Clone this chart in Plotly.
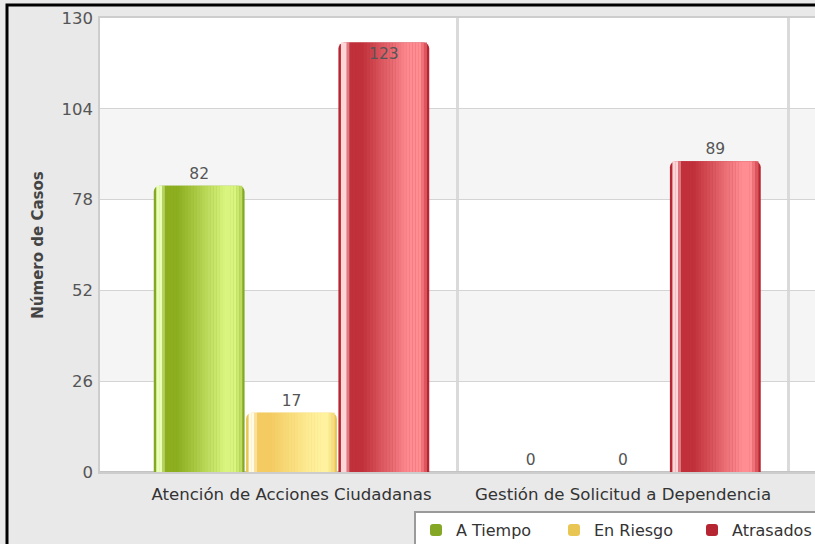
import plotly.graph_objects as go

# Cases per process and status
categories = ["Atención de Acciones Ciudadanas", "Gestión de Solicitud a Dependencia"]
series_names = ["A Tiempo", "En Riesgo", "Atrasados"]
a_tiempo = [82, 0]
en_riesgo = [17, 0]
atrasados = [123, 89]
y_ticks = [0, 26, 52, 78, 104, 130]

series_values = [a_tiempo, en_riesgo, atrasados]

W, H = 815, 544
L, R, T, B = 100, 0, 18, 72
PW, PH = W - L - R, H - T - B


def px2x(px):
    return (px - L) / PW


def py2y(py):
    return (H - B - py) / PH


# colour stops across the width of each cylinder-style bar:
# (base/legend colour, highlight, dark, light, right edge)
palettes = [
    ("#84a826", "#eaffb8", "#8cae1f", "#d9f57f", "#b4d458"),
    ("#e9c553", "#fffbe6", "#f4cb62", "#fff29e", "#f3d77a"),
    ("#b52632", "#ffd6d8", "#c1313b", "#ff8d92", "#d4474f"),
]

# relative position across the bar -> which stop / blend
profile = [
    (0.00, 1), (0.05, 1), (0.11, 2), (0.25, 2), (0.80, 3), (0.92, 3), (1.00, 4),
]


def hex2rgb(h):
    h = h.lstrip("#")
    return tuple(int(h[i:i + 2], 16) for i in (0, 2, 4))


def mix(c1, c2, t):
    a, b = hex2rgb(c1), hex2rgb(c2)
    return "rgb(%d,%d,%d)" % tuple(round(a[i] + (b[i] - a[i]) * t) for i in range(3))


def color_at(pal, u):
    for (p0, s0), (p1, s1) in zip(profile[:-1], profile[1:]):
        if p0 <= u <= p1:
            t = 0 if p1 == p0 else (u - p0) / (p1 - p0)
            return mix(pal[s0], pal[s1], t)
    return pal[4]


x_pos = list(range(len(categories)))
step = 0.2785          # slot for one bar within a group
bar_w = 0.274          # drawn bar width
unit_px = 331.5        # px per category unit (for edge inset)
inset = 2.5 / unit_px
n_strips = 30
label_font = dict(family="DejaVu Sans", size=15.5, color="#555555")

fig = go.Figure()

for s, (name, vals) in enumerate(zip(series_names, series_values)):
    pal = palettes[s]
    off = -1.5 * step + s * step + (step - bar_w) / 2
    # rounded base bar (also carries the legend entry)
    fig.add_trace(go.Bar(
        x=x_pos, y=vals, name=name, legendgroup=name,
        offset=off, width=bar_w,
        marker=dict(color=pal[0], cornerradius=6, line=dict(width=0)),
        hoverinfo="skip",
    ))
    # shading strips for the cylinder look
    inner = bar_w - 2 * inset
    sw = inner / n_strips
    for k in range(n_strips):
        u = (k + 0.5) / n_strips
        fig.add_trace(go.Bar(
            x=x_pos, y=vals, legendgroup=name, showlegend=False,
            offset=off + inset + k * sw, width=sw * 1.08,
            marker=dict(color=color_at(pal, u), line=dict(width=0)),
            hoverinfo="skip",
        ))
    # value labels
    positions = ["inside" if v > 115 else "outside" for v in vals]
    fig.add_trace(go.Bar(
        x=x_pos, y=vals, legendgroup=name, showlegend=False,
        offset=off, width=bar_w,
        marker=dict(color="rgba(0,0,0,0)", line=dict(width=0)),
        text=[str(v) for v in vals], textposition=positions,
        insidetextanchor="end",
        textfont=label_font,
        cliponaxis=False,
        hovertemplate="%{y}<extra>" + name + "</extra>",
    ))

# alternating horizontal bands
shapes = []
for i in range(1, len(y_ticks) - 1, 2):
    shapes.append(dict(type="rect", xref="paper", yref="y", x0=0, x1=1,
                       y0=y_ticks[i], y1=y_ticks[i + 1],
                       fillcolor="#f5f5f5", line=dict(width=0), layer="below"))

# plot-area shadow edge
shapes.append(dict(type="rect", xref="paper", yref="paper",
                   x0=px2x(99), x1=px2x(830), y0=py2y(473), y1=py2y(17),
                   line=dict(color="#cdcdcd", width=2), fillcolor="rgba(0,0,0,0)",
                   layer="above"))
# outer frame
shapes.append(dict(type="rect", xref="paper", yref="paper",
                   x0=px2x(7), x1=px2x(840), y0=py2y(570), y1=py2y(5),
                   line=dict(color="#000000", width=3), fillcolor="rgba(0,0,0,0)",
                   layer="above"))

fig.update_layout(
    width=W, height=H,
    margin=dict(l=L, r=R, t=T, b=B, autoexpand=False),
    paper_bgcolor="#e9e9e9",
    plot_bgcolor="#ffffff",
    barmode="overlay",
    font=dict(family="DejaVu Sans", color="#444444"),
    shapes=shapes,
    showlegend=True,
    legend=dict(
        orientation="h", x=px2x(414), y=py2y(511), xanchor="left", yanchor="top",
        bgcolor="#ffffff", bordercolor="#9a9a9a", borderwidth=2,
        font=dict(family="DejaVu Sans", size=16, color="#333333"),
        entrywidth=93, traceorder="normal",
    ),
    xaxis=dict(
        range=[(100 - 291.5) / unit_px, (815 - 291.5) / unit_px],
        tickmode="array", tickvals=x_pos, ticktext=categories,
        showgrid=False, zeroline=False, showline=False, ticks="",
        ticklabelstandoff=10,
        tickfont=dict(family="DejaVu Sans", size=16.6, color="#333333"),
        minor=dict(tickmode="array", tickvals=[p + 0.5 for p in x_pos],
                   showgrid=True, gridcolor="#dadada", gridwidth=2.5, ticks=""),
        fixedrange=True,
    ),
    yaxis=dict(
        range=[0, 130], tickmode="array", tickvals=y_ticks,
        showgrid=True, gridcolor="#d4d4d4", gridwidth=1,
        zeroline=True, zerolinecolor="#c4c4c4", zerolinewidth=2,
        ticks="", ticklabelstandoff=6,
        tickfont=dict(family="DejaVu Sans", size=16.5, color="#555555"),
        title=dict(text="<b>Número de Casos</b>", standoff=14,
                   font=dict(family="DejaVu Sans", size=15, color="#444444")),
        fixedrange=True,
    ),
)

fig.write_html("out.html")
